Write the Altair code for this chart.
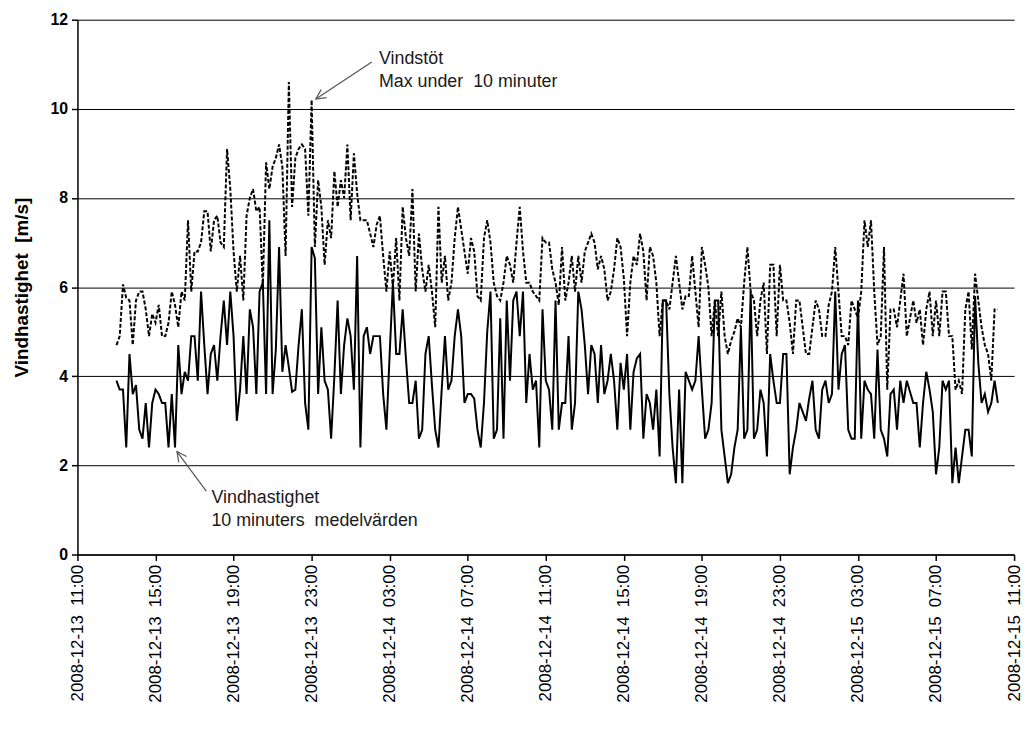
import altair as alt
import pandas as pd

# 10-minute mean wind speed (solid line), from 2008-12-13 13:00
medel_a = [3.9,3.7,3.7,2.4,4.5,3.6,3.8,2.8,2.6,3.4,2.4,3.4,3.7,3.6,3.4,3.4,2.4,3.6,2.4,4.7,3.6,4.1,3.9,4.9,4.9,3.9,5.9,4.7,3.6,4.5,4.7,3.9,4.9,5.7,4.7,5.9,4.9,3.0,3.7,4.9,3.6,5.5,5.1,3.6,5.9,6.1,3.6,7.5,3.6,4.6,6.9,4.1,4.7]
medel_b = [4.2,3.65,3.7,4.7,5.5,3.4,2.8,6.9,6.65,3.6,5.1,3.9,3.7,2.6,4.0,5.7,3.6,4.7,5.3,4.9,3.7,6.7,2.4,4.9,5.1,4.5,4.9,4.9,4.9,3.6,2.8,4.5,6.1,4.5,4.5,5.5,4.4,3.4,3.4,3.9,2.6,2.8,4.5,4.9,3.8,2.8,2.4,3.7,4.9,3.7,3.9,4.9,5.5,4.9,3.4,3.6]
medel_c = [3.6,3.5,2.8,2.4,3.4,5.0,5.9,2.6,2.8,5.3,2.6,5.7,3.9,5.7,5.9,4.9,5.9,3.4,4.5,3.7,3.9,2.4,5.5,3.9,3.7,2.8,5.7,2.8,3.4,3.4,4.9,2.8,3.4,5.9,5.5,4.7,3.6,4.7,4.5,3.4,4.7,3.6,3.9,4.5,3.9,2.8,4.3,3.7,4.5,2.8,4.1,4.4,4.5,2.6,3.6]
medel_d = [3.4,2.8,3.7,2.2,5.7,5.7,3.6,2.4,1.6,3.7,1.6,4.1,3.9,3.7,3.9,4.9,3.7,2.6,2.8,3.4,5.7,5.7,2.8,2.2,1.6,1.8,2.4,2.8,5.1,2.6,2.8,5.9,2.6,2.8,3.7,3.4,2.2,4.5,3.9,3.4,3.4,4.5,4.5,1.8,2.4,2.8,3.4,3.2,3.0,3.5,3.9,2.8,2.6,3.7]
medel_e = [3.9,3.4,3.6,5.9,3.7,4.5,4.7,2.8,2.6,2.6,5.7,2.6,3.9,3.7,3.6,2.6,4.6,2.8,2.6,2.2,3.6,3.7,2.8,3.9,3.4,3.9,3.65,3.4,3.4,2.4,3.4,4.1,3.7,3.2,1.8,2.4,3.9,3.7,3.9,1.6,2.4,1.6,2.2,2.8,2.8,2.2,5.8,4.3,3.4,3.6,3.2,3.4,3.9,3.4]

# gust, max within 10 minutes (dashed line)
byvind_a = [4.7,4.9,6.06,5.76,5.7,4.7,5.7,5.9,5.9,5.5,4.9,5.4,5.2,5.6,4.9,4.9,5.2,5.9,5.6,5.1,5.9,5.7,7.5,5.9,6.8,6.8,7.0,7.7,7.7,6.8,7.5,7.6,7.0,6.9,9.1,8.2,6.8,5.9,6.7,5.7,7.6,8.0,8.2,7.7,7.8,6.0,8.8,8.2,8.7,8.9,9.2,8.7,6.7]
byvind_b = [10.6,7.8,8.9,9.1,9.2,9.1,7.6,10.2,6.9,8.4,7.8,6.5,7.5,7.1,8.6,7.8,8.4,8.0,9.2,7.5,9.0,8.1,7.5,7.5,7.5,7.2,6.9,7.4,7.6,6.7,5.9,6.8,6.0,7.1,5.7,7.8,7.1,6.7,8.2,5.9,7.2,6.4,5.9,6.5,5.9,5.1,7.8,6.1,6.7,5.7,6.1,7.1,7.8,7.3,6.8,6.3]
byvind_c = [7.1,6.8,5.8,5.7,7.1,7.5,7.0,6.1,5.8,5.7,6.1,6.7,6.5,6.1,7.0,7.8,6.8,6.1,6.1,5.9,5.8,5.7,7.1,7.0,7.0,6.4,6.1,5.6,6.9,5.7,6.1,6.7,5.9,6.7,6.1,6.8,7.0,7.2,7.0,6.4,6.7,6.4,5.7,5.9,6.4,7.1,6.9,6.2,4.9,6.1,6.7,6.5,7.2,6.8,5.7]
byvind_d = [6.9,6.7,6.1,4.9,5.7,5.7,5.5,6.1,6.7,6.1,5.5,5.8,5.8,6.7,5.9,5.1,6.9,6.5,6.0,4.9,5.7,4.9,5.9,4.9,4.5,4.8,5.0,5.3,5.1,6.1,6.9,5.9,5.7,4.9,5.7,6.1,4.5,6.5,6.5,4.9,6.5,5.7,5.7,5.2,4.5,5.7,5.7,5.1,4.5,4.5,5.1,5.7,5.5,4.9]
byvind_e = [4.9,5.6,5.9,6.9,5.9,4.9,4.9,4.7,5.7,5.5,5.3,5.9,7.5,6.9,7.5,5.9,4.7,4.9,6.9,3.7,5.5,5.5,5.1,5.7,6.3,4.9,5.3,5.7,5.2,5.5,4.7,5.5,5.9,4.9,5.7,4.9,5.9,5.9,4.9,4.9,3.7,3.9,3.6,5.5,5.9,4.6,6.3,5.7,5.1,4.7,4.5,3.9,5.5,5.5]

y_ticks = [0, 2, 4, 6, 8, 10, 12]
tick_hours = list(range(0, 49, 4))  # every 4 h from 2008-12-13 11:00

medel = medel_a + medel_b + medel_c + medel_d + medel_e
byvind = byvind_a + byvind_b + byvind_c + byvind_d + byvind_e
n = min(len(medel), len(byvind))
medel, byvind = medel[:n], byvind[:n]
times = pd.date_range("2008-12-13 13:00", periods=n, freq="10min")

df = pd.DataFrame({
    "tid": list(times) + list(times),
    "v": medel + byvind,
    "serie": ["medel"] * n + ["byvind"] * n,
})

# annotations (data coordinates)
notes = pd.DataFrame({
    "tid": pd.to_datetime(["2008-12-14 02:27", "2008-12-14 02:27",
                           "2008-12-13 17:52", "2008-12-13 17:52"]),
    "v": [11.12, 10.6, 1.26, 0.75],
    "txt": ["Vindstöt", "Max under\u00a0\u00a010 minuter",
            "Vindhastighet", "10 minuters\u00a0\u00a0medelvärden"],
})
arrows = pd.DataFrame({
    "tid": pd.to_datetime(["2008-12-14 02:05", "2008-12-13 17:36"]),
    "v": [11.05, 1.42],
    "tid2": pd.to_datetime(["2008-12-13 23:13", "2008-12-13 16:06"]),
    "v2": [10.22, 2.31],
    "vinkel": [236, 324],
})

start = pd.Timestamp("2008-12-13 11:00")
tick_vals = []
for h in tick_hours:
    t = start + pd.Timedelta(hours=h)
    tick_vals.append(alt.DateTime(year=t.year, month=t.month, date=t.day, hours=t.hour))

xscale = alt.Scale(domain=[tick_vals[0], tick_vals[-1]], nice=False)
yscale = alt.Scale(domain=[0, 12], nice=False)

FONT = "Liberation Sans"

xaxis = alt.Axis(
    values=tick_vals, format="%Y-%m-%d\u00a0\u00a0%H:%M", labelAngle=270,
    labelFontSize=17, labelFont=FONT, labelColor="black", labelPadding=4,
    tickSize=6, tickColor="black", tickWidth=1.5, domainColor="black",
    domainWidth=1.5, grid=False, title=None, labelOverlap=False)
yaxis = alt.Axis(
    values=y_ticks, labelFontSize=16, labelFontWeight="bold", labelFont=FONT,
    labelColor="black", labelPadding=4, tickSize=6, tickColor="black",
    tickWidth=1.5, domainColor="black", domainWidth=1.5, grid=True,
    gridColor="black", gridWidth=1, gridOpacity=1,
    title="Vindhastighet\u00a0\u00a0[m/s]", titleFont=FONT, titleFontSize=19,
    titleFontWeight="bold", titleColor="black", titleAngle=270,
    titleX=-56, titleY=269.5, titleAlign="center", titleBaseline="middle")

lines = alt.Chart(df).mark_line(color="black", strokeWidth=2).encode(
    x=alt.X("tid:T", scale=xscale, axis=xaxis),
    y=alt.Y("v:Q", scale=yscale, axis=yaxis),
    strokeDash=alt.StrokeDash("serie:N", scale=alt.Scale(
        domain=["medel", "byvind"], range=[[1, 0], [4, 2]]), legend=None),
)

rules = alt.Chart(arrows).mark_rule(color="#555555", strokeWidth=1.2).encode(
    x=alt.X("tid:T", scale=xscale, axis=xaxis),
    y=alt.Y("v:Q", scale=yscale, axis=yaxis),
    x2="tid2:T",
    y2="v2:Q",
)

heads = alt.Chart(arrows).mark_point(
    shape="M -0.5 1 L 0 0 L 0.5 1", filled=False, color="#555555",
    strokeWidth=1.2, size=380, opacity=1,
).encode(
    x=alt.X("tid2:T", scale=xscale, axis=xaxis),
    y=alt.Y("v2:Q", scale=yscale, axis=yaxis),
    angle=alt.Angle("vinkel:Q", scale=None),
)

texts = alt.Chart(notes).mark_text(
    align="left", baseline="middle", fontSize=18, font=FONT, color="#1a1a1a"
).encode(
    x=alt.X("tid:T", scale=xscale, axis=xaxis),
    y=alt.Y("v:Q", scale=yscale, axis=yaxis),
    text="txt:N",
)

chart = alt.layer(lines, rules, heads, texts).properties(
    width=944, height=539,
    autosize=alt.AutoSizeParams(type="none"),
    padding={"left": 70, "top": 9, "right": 12, "bottom": 165},
    background="white",
).configure_view(stroke=None)

chart.save("out.html", embed_options={"renderer": "svg", "actions": False})
